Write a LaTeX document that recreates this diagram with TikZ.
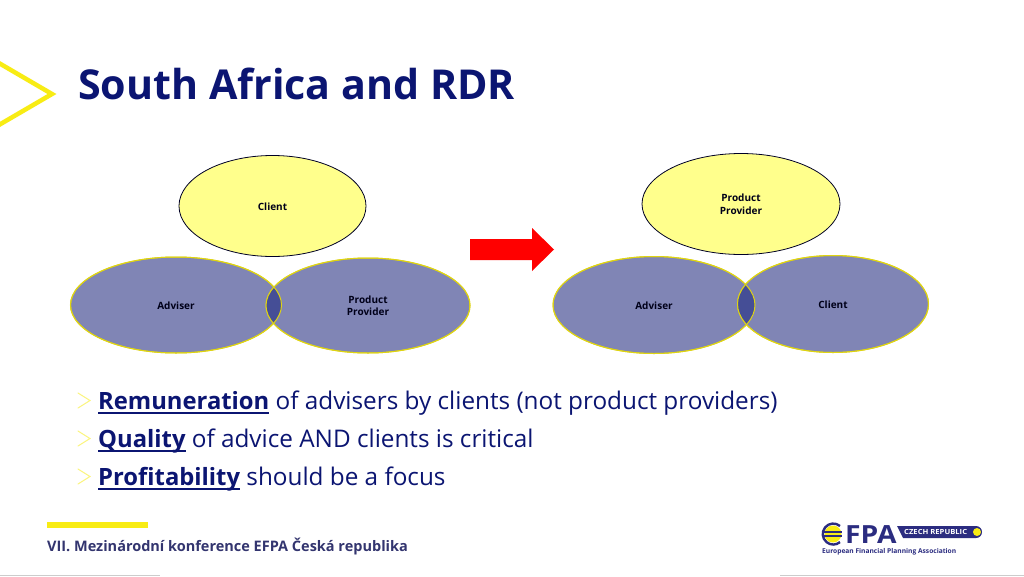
\documentclass[tikz,border=0pt]{standalone}
\usepackage{graphicx}
\usepackage{fontspec}
\setmainfont{Open Sans}
\usetikzlibrary{shapes.geometric}
\definecolor{navy}{HTML}{0B1572}
\definecolor{ylw}{HTML}{F8EC14}
\definecolor{pale}{HTML}{FFFF8C}
\definecolor{violet}{HTML}{8085B5}
\definecolor{deep}{HTML}{454E96}
\definecolor{logoblue}{HTML}{2B2C80}
\definecolor{footer}{HTML}{33356F}
\tikzset{
 x=1pt,y=-1pt,
 paleoval/.style={ellipse,draw=black!85!blue,line width=0.8pt,fill=pale,inner sep=0pt},
 blueoval/.style={ellipse,draw=ylw!90!black,line width=1pt,fill=violet,inner sep=0pt},
 lbl/.style={font=\bfseries\fontsize{10}{12.5}\selectfont,text=black!90!blue,align=center},
 bullet/.style={anchor=base west,font=\fontsize{24.3}{28}\selectfont,text=navy,inner sep=0pt},
 chev/.style={draw=ylw!55!white,line width=1pt,line cap=round},
}
\newcommand{\thickul}[1]{\setbox0\hbox{\fontsize{23.8}{28}\selectfont\bfseries #1}\rlap{\rule[-4.6pt]{\wd0}{2pt}}\box0 }
\begin{document}
\begin{tikzpicture}
\useasboundingbox (0,0) rectangle (1024,576);
\fill[white] (0,0) rectangle (1024,576);
% top-left chevron
\draw[ylw,line width=4.5pt,miter limit=10] (-2,62.5) -- (52,94) -- (-2,125.5);
\node[anchor=base west,inner sep=0pt,font=\bfseries\fontsize{41.2}{46}\selectfont,text=navy] (title) at (78,99) {South Africa and RDR};
% left group
\node[paleoval,minimum width=187pt,minimum height=101pt] (cl) at (272.5,206) {};
\node[lbl] (cltxt) at (272.5,206.8) {Client};
\node[blueoval,minimum width=211pt,minimum height=96pt] (adv) at (176,305) {};
\node[blueoval,minimum width=204pt,minimum height=95pt] (pp) at (368,305.5) {};
\begin{scope}
 \clip (176,305) ellipse [x radius=105.5,y radius=48];
 \fill[deep] (368,305.5) ellipse [x radius=102,y radius=47.5];
\end{scope}
\draw[ylw!90!black,line width=1pt] (176,305) ellipse [x radius=105.5,y radius=48];
\draw[ylw!90!black,line width=1pt] (368,305.5) ellipse [x radius=102,y radius=47.5];
\node[lbl] (advtxt) at (176,305.8) {Adviser};
\node[lbl] (pptxt) at (368,305.5) {Product\\Provider};
% arrow
\fill[red] (470,239) -- (532,239) -- (532,228) -- (554,249.5) -- (532,271) -- (532,260) -- (470,260) -- cycle;
% right group
\node[paleoval,minimum width=198pt,minimum height=101pt] (pr) at (741,204) {};
\node[lbl] (prtxt) at (741,204) {Product\\Provider};
\node[blueoval,minimum width=202pt,minimum height=97pt] (adv2) at (654,305) {};
\node[blueoval,minimum width=191pt,minimum height=97pt] (cl2) at (833,304) {};
\begin{scope}
 \clip (654,305) ellipse [x radius=101,y radius=48.5];
 \fill[deep] (833,304) ellipse [x radius=95.5,y radius=48.5];
\end{scope}
\draw[ylw!90!black,line width=1pt] (654,305) ellipse [x radius=101,y radius=48.5];
\draw[ylw!90!black,line width=1pt] (833,304) ellipse [x radius=95.5,y radius=48.5];
\node[lbl] (adv2txt) at (654,305.6) {Adviser};
\node[lbl] (cl2txt) at (833,305) {Client};
% bullets
\draw[chev] (78,393) -- (90,400.5) -- (78,408);
\draw[chev] (78,431) -- (90,438.5) -- (78,446);
\draw[chev] (78,469) -- (90,476.5) -- (78,484);
\node[bullet] (b1) at (98,409) {\thickul{Remuneration} of advisers by clients (not product providers)};
\node[bullet] (b2) at (98,447) {\thickul{Quality} of advice AND clients is critical};
\node[bullet] (b3) at (98,485) {\thickul{Profitability} should be a focus};
% footer
\fill[ylw] (47,522) rectangle (148,527.5);
\node[anchor=base west,inner sep=0pt,font=\bfseries\fontsize{14.5}{16}\selectfont,text=footer] (foot) at (47,551) {VII. Mezinárodní konference EFPA Česká republika};
\fill[black!20] (0,575) rectangle (160,576);
\fill[black!20] (780,575) rectangle (1024,576);
% logo
\fill[ylw] (833,534) circle (8.5);
\draw[logoblue,line width=2.4pt] (840,526) arc (-50:-310:10.5);
\fill[logoblue] (822,531.2) rectangle (842,533.2);
\fill[logoblue] (822,535.2) rectangle (842,537.2);
\node[anchor=base west,inner sep=0pt,font=\bfseries\fontsize{25}{27}\selectfont,text=logoblue] (fpa) at (845,543.5) {\scalebox{1.13}[1]{FPA}};
\fill[logoblue] (897,526) -- (976,526) arc (-90:90:6) -- (903,538) -- cycle;
\fill[ylw] (977,532) circle (4);
\node[anchor=base west,inner sep=0pt,font=\bfseries\fontsize{7}{8}\selectfont,text=white] (cz) at (904,534.8) {\scalebox{1.09}[1]{CZECH REPUBLIC}};
\node[anchor=base west,inner sep=0pt,font=\bfseries\fontsize{6.65}{8}\selectfont,text=logoblue] (efpa) at (822,553.5) {European Financial Planning Association};
\end{tikzpicture}
\end{document}
